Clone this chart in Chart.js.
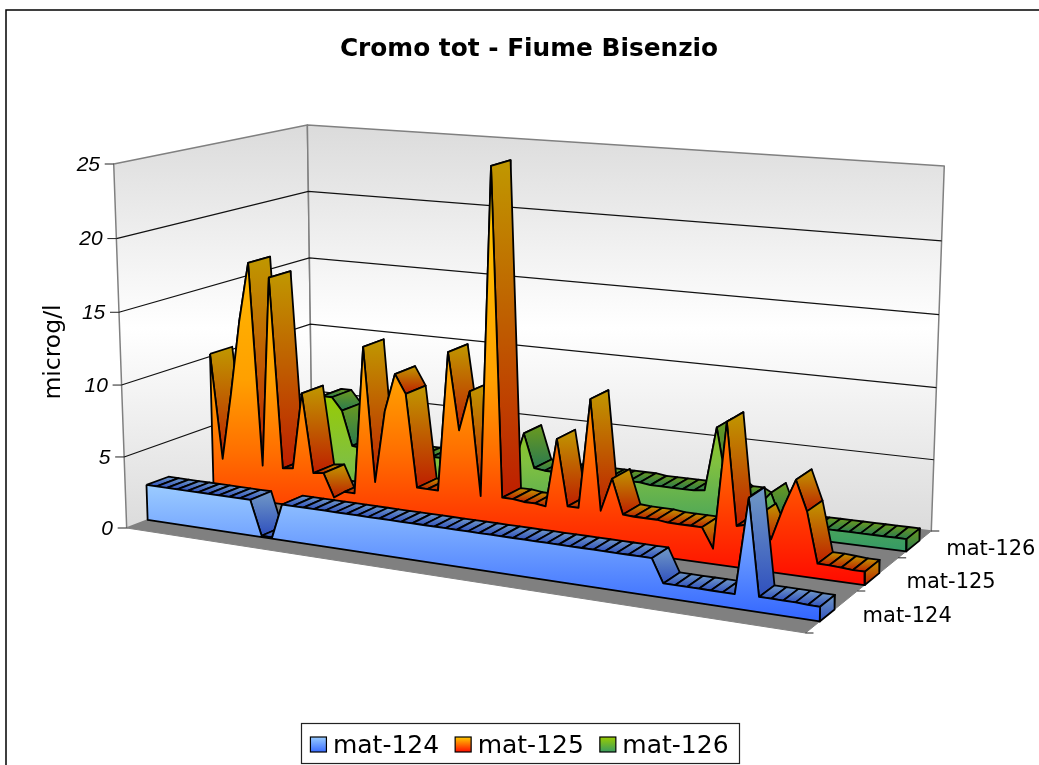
<!DOCTYPE html>
<html><head><meta charset="utf-8">
<style>html,body{margin:0;padding:0;background:#fff}canvas{display:block}</style>
<script src="https://cdn.jsdelivr.net/npm/chart.js@4"></script>
</head><body><canvas id="c" width="1039" height="765"></canvas>
<script>
const seriesNames = ['mat-124','mat-125','mat-126'];
const valueTicks = [0,5,10,15,20,25];
const mat124 = [2.5,2.5,2.5,2.5,2.5,2.5,2.5,2.5,2.5,2.5,2.5,0.1,0.1,2.5,2.5,2.5,2.5,2.5,2.5,2.5,2.5,2.5,2.5,2.5,2.5,2.5,2.5,2.5,2.5,2.5,2.5,2.5,2.5,2.5,2.5,2.5,2.5,2.5,2.5,2.5,2.5,2.5,2.5,2.5,2.5,2.5,2.5,0.95,0.95,0.95,0.95,0.95,0.95,0.95,7.3,1,1,1,1,0.95,0.95];
const mat125 = [10.2,2.7,7.5,12.8,17,2.6,16.1,2.6,2.7,8.15,2.55,2.65,1,1.5,1.5,11.95,2.5,7.6,10.3,9,2.5,2.5,2.5,12.25,6.9,9.7,2.5,25.2,2.6,2.6,2.5,2.5,2.4,7.15,2.6,2.6,10.15,2.6,4.9,2.55,2.5,2.5,2.5,2.4,2.4,2.4,2.4,1.05,9.7,2.8,3,3.8,2.2,4.5,6.4,4.4,1,1,0.95,0.9,0.9];
const mat126 = [2.5,2.5,2.5,2.5,3,6,6,5.1,2.6,2.5,2.5,2.5,2.5,2.5,2.5,2.5,2.5,2.5,2.5,2.5,2.5,2.5,2.5,2.5,2.5,5,2.6,2.5,2.5,2.5,2.5,2.5,2.5,2.5,2.5,2.5,2.5,2.4,2.4,2.4,2.4,2.4,2.5,7,3,2.4,2.4,2,2.9,1,0.85,0.85,0.85,0.85,0.85,0.85,0.85,0.85,0.85,0.85,0.85];
const seriesValues = [mat124, mat125, mat126];
const AXIS_MAX = 25;

// camera: corners of the 3D box on screen
const FL=[126,528],FR=[806,633],BR=[932,531],BL=[312,457];
const TFL=[113,164],TFR=[816,230],TBR=[945,166],TBL=[307,125];
const K_U=0.91, K_V=1.4;
const lerp=(a,b,t)=>[a[0]+(b[0]-a[0])*t,a[1]+(b[1]-a[1])*t];
const fu=u=>K_U*u/(1-(1-K_U)*u);
const fv=v=>K_V*v/(1+(K_V-1)*v);
function fw(w,u,v){const k=0.97+0.03*v*(1-u);return k*w/(1-(1-k)*w);}
function project(u,v,val){
  const fU=fu(u),fV=fv(v);
  const floor=lerp(lerp(FL,BL,fV),lerp(FR,BR,fV),fU);
  const top=lerp(lerp(TFL,TBL,fV),lerp(TFR,TBR,fV),fU);
  const p=lerp(floor,top,fw(val/AXIS_MAX,u,v));
  return {x:p[0],y:p[1]};
}
const canvas=document.getElementById('c');
const ctx0=canvas.getContext('2d');
function grad(y0,y1,stops){
  const g=ctx0.createLinearGradient(0,y0,0,y1);
  stops.forEach(s=>g.addColorStop(s[0],s[1]));
  return g;
}
const frontGrad=[
  grad(484,620,[[0,'#9CCCFF'],[1,'#3366FF']]),
  grad(165,585,[[0,'#FFCC00'],[0.51,'#FFA000'],[0.68,'#FF7000'],[0.84,'#FF3A00'],[1,'#FF0A00']]),
  grad(390,553,[[0,'#99CC00'],[0.45,'#80C040'],[1,'#339966']])
];
const facetTop=['#7199C6','#C09800','#6B9A1E'];
const facetBot=['#2F50BE','#BE1E00','#2A7A50'];
const BAND_FRONT=[0.25,0.16,0.22], BAND_BACK=[0.53,0.51,0.62];
const EDGE=1.8;
const paint=[];
function poly(pts,fillColor,border,width){
  const data=pts.concat([pts[0]]);
  paint.push({data,showLine:true,pointRadius:0,pointHoverRadius:0,borderColor:border,borderWidth:width,
    backgroundColor:fillColor,fill:fillColor?'shape':false,tension:0,borderJoinStyle:'round',clip:false});
}
function line(pts,color,width){
  paint.push({data:pts,showLine:true,pointRadius:0,pointHoverRadius:0,borderColor:color,borderWidth:width,fill:false,tension:0,clip:false});
}
function facetFill(pts,s){
  const ys=pts.map(p=>p.y);
  const a=Math.min(...ys),b=Math.max(...ys);
  return grad(a,b+0.01,[[0,facetTop[s]],[1,facetBot[s]]]);
}
// floor
poly([project(0,0,0),project(1,0,0),project(1,1,0),project(0,1,0)],'#808080','#808080',1);
// walls
const wallGrad=grad(125,531,[[0,'#DBDBDB'],[0.5,'#FFFFFF'],[1,'#DBDBDB']]);
poly([project(0,0,0),project(0,1,0),project(0,1,AXIS_MAX),project(0,0,AXIS_MAX)],wallGrad,'#808080',1.5);
poly([project(0,1,0),project(1,1,0),project(1,1,AXIS_MAX),project(0,1,AXIS_MAX)],wallGrad,'#808080',1.5);
// gridlines
valueTicks.slice(1,-1).forEach(t=>line([project(0,0,t),project(0,1,t),project(1,1,t)],'#111',1.2));
// value axis ticks
valueTicks.forEach(t=>{const p=project(0,0,t);line([{x:p.x-9,y:p.y},p],'#222',1);});
// depth axis ticks
[0,1,2,3].forEach(k=>{const p=project(1,k/3,0);line([p,{x:p.x+8,y:p.y}],'#222',1);});
// series, back to front
for(let s=2;s>=0;s--){
  const vals=seriesValues[s],n=vals.length-1;
  const vf=(s+BAND_FRONT[s])/3,vb=(s+BAND_BACK[s])/3;
  for(let i=0;i<n;i++){
    const u0=i/n,u1=(i+1)/n;
    const pts=[project(u0,vf,vals[i]),project(u1,vf,vals[i+1]),project(u1,vb,vals[i+1]),project(u0,vb,vals[i])];
    poly(pts,facetFill(pts,s),'#000',EDGE);
  }
  const cap=[project(1,vf,vals[n]),project(1,vb,vals[n]),project(1,vb,0),project(1,vf,0)];
  poly(cap,facetFill(cap,s),'#000',EDGE);
  const front=vals.map((v,i)=>project(i/n,vf,v));
  front.push(project(1,vf,0),project(0,vf,0));
  poly(front,frontGrad[s],'#000',EDGE);
}
paint.reverse();

const swatch=[
  grad(737,753,[[0,'#99CCFF'],[1,'#3366FF']]),
  grad(737,753,[[0,'#FFCC00'],[1,'#FF0000']]),
  grad(737,753,[[0,'#99CC00'],[1,'#339966']])
];
const labelDX=[-1,-3,0], labelDY=[5,8,5];
const LEGEND_SHIFT=-1, SWATCH_SHIFT=2;
const textPlugin={
  id:'frame3d',
  afterLayout(chart){
    chart.titleBlock.left=19;
    chart.legend.top+=4;
    chart.legend.left+=LEGEND_SHIFT;chart.legend.right+=LEGEND_SHIFT;
  },
  beforeDraw(chart){
    const c=chart.ctx;c.save();
    c.strokeStyle='#000';c.lineWidth=1.5;
    c.strokeRect(6,10,1100,1000);
    c.restore();
  },
  afterDraw(chart){
    const c=chart.ctx;c.save();
    c.fillStyle='#000';
    c.font='italic 21px "Liberation Sans"';c.textAlign='right';c.textBaseline='middle';
    valueTicks.forEach(t=>{const p=project(0,0,t);c.fillText(String(t),p.x-13,p.y+1);});
    c.font='21px "DejaVu Sans"';c.textAlign='left';
    seriesNames.forEach((nm,k)=>{const p=project(1,(k+0.5)/3,0);c.fillText(nm,p.x+30+labelDX[k],p.y+1+labelDY[k]);});
    c.save();c.translate(54,352);c.rotate(-Math.PI/2);c.textAlign='center';
    c.font='23.5px "DejaVu Sans"';c.fillText('microg/l',0,0);c.restore();
    c.strokeStyle='#222';c.lineWidth=1.2;c.strokeRect(301.5,723.5,438,40);
    chart.legend.legendHitBoxes.forEach((h,k)=>{
      c.fillStyle=swatch[k];c.strokeStyle='#000';c.lineWidth=1.2;
      c.fillRect(h.left+SWATCH_SHIFT,737,16,15);c.strokeRect(h.left+SWATCH_SHIFT,737,16,15);
    });
    c.restore();
  }
};
const chart=new Chart(canvas,{
  type:'scatter',
  data:{datasets:paint},
  options:{
    responsive:false,animation:false,
    layout:{padding:0},
    events:[],
    plugins:{
      tooltip:{enabled:false},
      title:{display:true,text:'Cromo tot - Fiume Bisenzio',color:'#000',
        font:{family:'"DejaVu Sans"',size:24.8,weight:'bold'},padding:{top:35,bottom:30}},
      legend:{display:true,position:'bottom',
        labels:{boxWidth:12,boxHeight:12,color:'#000',padding:14,font:{family:'"DejaVu Sans"',size:25},
          generateLabels(){return seriesNames.map((nm,k)=>({text:nm,fillStyle:'rgba(0,0,0,0)',strokeStyle:'rgba(0,0,0,0)',lineWidth:0,hidden:false,datasetIndex:k}));}}}
    },
    scales:{
      x:{type:'linear',min:0,max:1039,display:false},
      y:{type:'linear',reverse:true,min:90,max:720,display:false}
    }
  },
  plugins:[textPlugin]
});
chart.options.scales.y.min=chart.chartArea.top;
chart.options.scales.y.max=chart.chartArea.bottom;
chart.update('none');
</script></body></html>
